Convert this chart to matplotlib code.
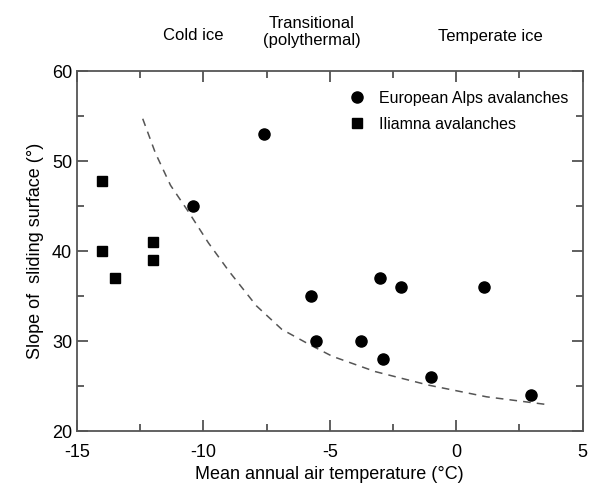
import matplotlib
matplotlib.use("Agg")
import matplotlib.pyplot as plt
from matplotlib.ticker import MultipleLocator

plt.rcParams['font.family'] = ['Liberation Sans', 'DejaVu Sans']
plt.rcParams['axes.unicode_minus'] = False

# European Alps avalanches (circles)
alps_temp = [-7.6, -10.4, -5.75, -5.55, -3.75, -3.0, -2.9, -2.2, -1.0, 1.1, 2.95]
alps_slope = [53, 45, 35, 30, 30, 37, 28, 36, 26, 36, 24]

# Iliamna avalanches (squares)
iliamna_temp = [-14, -14, -13.5, -12, -12]
iliamna_slope = [47.8, 40, 37, 41, 39]

# dashed boundary curve
curve_temp = [-12.4, -11.9, -11.3, -10.6, -9.8, -9.0, -7.9, -6.9, -5.8, -4.9, -3.2, -1.1, 1.2, 3.7]
curve_slope = [54.7, 50.9, 47.3, 44.4, 40.9, 37.8, 33.9, 31.3, 29.6, 28.3, 26.6, 25.1, 23.8, 22.9]

fig = plt.figure(figsize=(5.9, 4.9), dpi=100)
ax = fig.add_axes([0.1305, 0.1204, 0.857, 0.7346])

ax.plot(curve_temp, curve_slope, linestyle=(0, (5, 4)), color='#555555', lw=1.1)
ax.plot(alps_temp, alps_slope, 'o', color='black', ms=8, label='European Alps avalanches')
ax.plot(iliamna_temp, iliamna_slope, 's', color='black', ms=6.5, label='Iliamna avalanches')

ax.set_xlim(-15, 5)
ax.set_ylim(20, 60)
ax.xaxis.set_major_locator(MultipleLocator(5))
ax.xaxis.set_minor_locator(MultipleLocator(2.5))
ax.yaxis.set_major_locator(MultipleLocator(10))
ax.yaxis.set_minor_locator(MultipleLocator(5))
ax.tick_params(which='both', direction='in', top=True, right=True, labelsize=13, color='#444444')
ax.tick_params(which='major', length=8, width=1.2)
ax.tick_params(which='minor', length=5, width=1.2)
ax.tick_params(axis='x', which='major', pad=9)
for s in ax.spines.values():
    s.set_color('#555555')
    s.set_linewidth(1.3)

ax.set_xlabel('Mean annual air temperature (°C)', fontsize=13, labelpad=4)
ax.set_ylabel('Slope of  sliding surface (°)', fontsize=13, labelpad=6)

ax.legend(loc='upper right', frameon=False, fontsize=11.5, handletextpad=0.4,
          borderaxespad=0.5, labelspacing=0.7, bbox_to_anchor=(1.0, 0.985))

fig.text(193 / 590, 1 - 36 / 490, 'Cold ice', ha='center', va='center', fontsize=12)
fig.text(312 / 590, 1 - 32 / 490, 'Transitional\n(polythermal)', ha='center', va='center', fontsize=12)
fig.text(490 / 590, 1 - 36 / 490, 'Temperate ice', ha='center', va='center', fontsize=12)

fig.savefig('out.png', dpi=100)
